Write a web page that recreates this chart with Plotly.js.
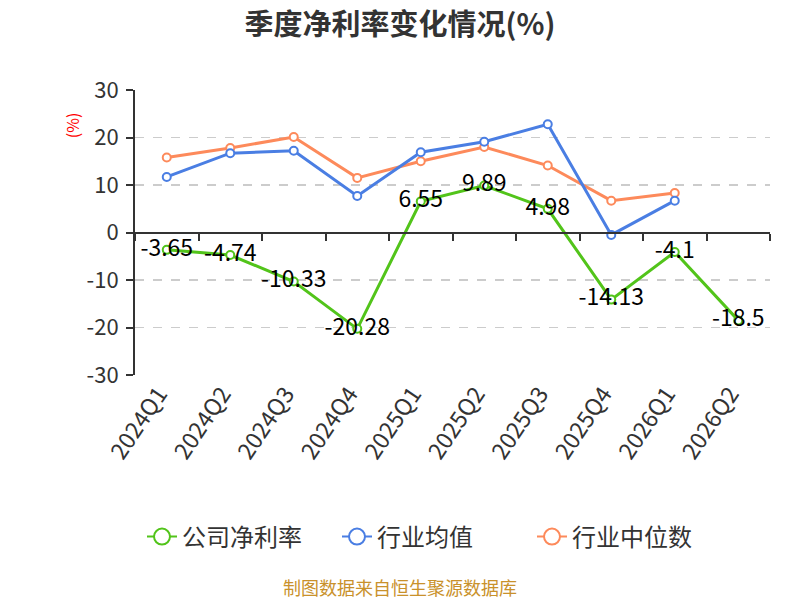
<!DOCTYPE html>
<html>
<head>
<meta charset="utf-8">
<script src="https://cdn.plot.ly/plotly-3.0.1.min.js"></script>
<style>
  html, body { margin: 0; padding: 0; background: #fff; }
  #chart { width: 800px; height: 600px; }
</style>
</head>
<body>
<div id="chart"></div>
<script>
const quarters = ['2024Q1', '2024Q2', '2024Q3', '2024Q4', '2025Q1', '2025Q2', '2025Q3', '2025Q4', '2026Q1', '2026Q2'];
const companyMargin = [-3.65, -4.74, -10.33, -20.28, 6.55, 9.89, 4.98, -14.13, -4.1, -18.5];
const industryAvg = [11.7, 16.7, 17.2, 7.7, 16.9, 19.1, 22.8, -0.5, 6.7, null];
const industryMedian = [15.8, 17.8, 20.1, 11.5, 15.0, 18.0, 14.1, 6.7, 8.3, null];
const yTickVals = [-30, -20, -10, 0, 10, 20, 30];
const yTickText = ['-30', '-20', '-10', '0', '10', '20', '30'];

const GREEN = '#52c41a';
const BLUE = '#4a7ee3';
const ORANGE = '#fd8a5b';
const FONT = 'Noto Sans CJK SC, Noto Sans, sans-serif';

function series(name, y, color, withText) {
  const t = {
    x : quarters,
    y : y,
    name : name,
    type : 'scatter',
    mode : withText ? 'lines+markers+text' : 'lines+markers',
    line : {color : color, width : 3},
    marker : {
      symbol : 'circle',
      size : 8,
      color : '#ffffff',
      line : {color : color, width : 2}
    },
    showlegend : false,
    cliponaxis : false,
    hoverinfo : 'x+y'
  };
  if (withText) {
    t.text = y.map(v => String(v));
    t.textposition = 'middle center';
    t.textfont = {size : 23, color : '#000000', family : FONT};
  }
  return t;
}

// legend-only entry, so the legend circle can be bigger than the markers
function legendEntry(name, color) {
  return {
    x : [null],
    y : [null],
    name : name,
    type : 'scatter',
    mode : 'lines+markers',
    line : {color : color, width : 2},
    marker : {symbol : 'circle', size : 18, color : '#ffffff', line : {color : color, width : 2}},
    hoverinfo : 'skip'
  };
}

const data = [
  series('行业中位数', industryMedian, ORANGE, false),
  series('行业均值', industryAvg, BLUE, false),
  series('公司净利率', companyMargin, GREEN, true),
  legendEntry('公司净利率', GREEN),
  legendEntry('行业均值', BLUE),
  legendEntry('行业中位数', ORANGE)
];

// empty trace on xaxis2: the zero-line axis with boundary ticks
data.push({
  x : quarters,
  y : quarters.map(() => null),
  xaxis : 'x2',
  type : 'scatter',
  mode : 'lines',
  showlegend : false,
  hoverinfo : 'skip'
});

const layout = {
  width : 800,
  height : 600,
  margin : {l : 135, r : 30, t : 90, b : 225, autoexpand : false},
  paper_bgcolor : '#ffffff',
  plot_bgcolor : '#ffffff',
  font : {family : FONT, color : '#333333'},
  title : {
    text : '<b>季度净利率变化情况(%)</b>',
    font : {size : 29, color : '#333333', family : FONT},
    x : 0.5,
    xanchor : 'center',
    yref : 'container',
    y : 0.958,
    yanchor : 'middle'
  },
  xaxis : {
    type : 'category',
    range : [-0.5, 9.5],
    showline : false,
    showgrid : false,
    zeroline : false,
    ticks : '',
    tickangle : -56,
    ticklabelshift : -8,
    tickfont : {size : 23, color : '#333333'},
    automargin : false,
    fixedrange : true
  },
  xaxis2 : {
    type : 'category',
    overlaying : 'x',
    anchor : 'free',
    position : 0.5,
    side : 'bottom',
    range : [-0.5, 9.5],
    showline : true,
    linecolor : '#333333',
    linewidth : 2,
    ticks : 'outside',
    tickson : 'boundaries',
    ticklen : 7,
    tickwidth : 2,
    tickcolor : '#333333',
    showticklabels : false,
    showgrid : false,
    zeroline : false,
    automargin : false
  },
  yaxis : {
    range : [-30, 30],
    tickvals : yTickVals,
    ticktext : yTickText,
    showline : true,
    linecolor : '#333333',
    linewidth : 2,
    ticks : 'outside',
    ticklen : 7,
    tickwidth : 2,
    tickcolor : '#333333',
    tickfont : {size : 22, color : '#333333'},
    ticklabelstandoff : 3,
    showgrid : true,
    gridcolor : '#cccccc',
    griddash : 'dash',
    gridwidth : 1.5,
    zeroline : false,
    automargin : false,
    fixedrange : true
  },
  legend : {
    orientation : 'h',
    x : 0.1775,
    xref : 'container',
    xanchor : 'left',
    y : 0.105,
    yref : 'container',
    yanchor : 'middle',
    font : {size : 24, color : '#333333', family : FONT},
    entrywidth : 150,
    entrywidthmode : 'pixels'
  },
  annotations : [
    {
      text : '(%)',
      xref : 'paper',
      yref : 'paper',
      x : -0.099,
      y : 0.877,
      xanchor : 'center',
      yanchor : 'middle',
      textangle : -90,
      showarrow : false,
      font : {size : 16, color : '#ff0000', family : FONT}
    },
    {
      text : '制图数据来自恒生聚源数据库',
      xref : 'paper',
      yref : 'paper',
      x : 0.417,
      y : -0.745,
      xanchor : 'center',
      yanchor : 'middle',
      showarrow : false,
      font : {size : 18, color : '#c9912b', family : FONT}
    }
  ],
  showlegend : true
};

Plotly.newPlot('chart', data, layout, {displayModeBar : false, staticPlot : true});
</script>
</body>
</html>
